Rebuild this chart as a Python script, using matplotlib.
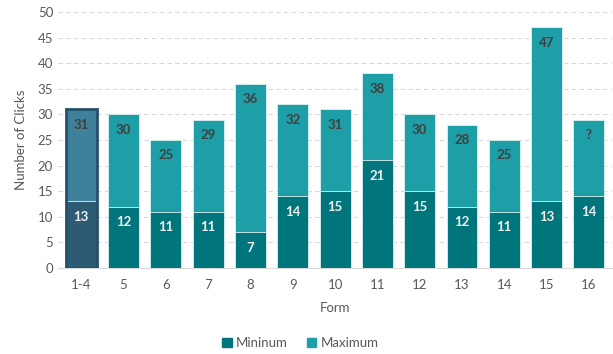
import matplotlib.pyplot as plt
from matplotlib.patches import Patch

plt.rcParams['font.family'] = ['Lato', 'DejaVu Sans']

# Dati
forms = ['1-4', '5', '6', '7', '8', '9', '10', '11', '12', '13', '14', '15', '16']
minimum = [13, 12, 11, 11, 7, 14, 15, 21, 15, 12, 11, 13, 14]
maximum = [31, 30, 25, 29, 36, 32, 31, 38, 30, 28, 25, 47, 29]
max_labels = ['31', '30', '25', '29', '36', '32', '31', '38', '30', '28', '25', '47', '?']

MIN_COL = '#00757c'
MAX_COL = '#1e9ea6'
HL_MIN = '#2c5b73'
HL_MAX = '#3f819a'
HL_EDGE = '#24506a'
TEXT_COL = '#595959'

fig = plt.figure(figsize=(6.13, 3.54), dpi=100)
ax = fig.add_axes([0.0946, 0.243, 0.904, 0.723])

x = list(range(len(forms)))
w = 0.73
max_colors = [HL_MAX] + [MAX_COL] * (len(forms) - 1)
min_colors = [HL_MIN] + [MIN_COL] * (len(forms) - 1)

ax.bar(x, maximum, width=w, color=max_colors, edgecolor='#dff2f3', linewidth=0.6, zorder=2)
ax.bar(x, minimum, width=w, color=min_colors, edgecolor='#dff2f3', linewidth=0.6, zorder=3)
# contorno evidenziato per la prima barra
ax.bar(x[0], maximum[0], width=w, fill=False, edgecolor=HL_EDGE, linewidth=2, zorder=4)

for i in x:
    ax.text(i, maximum[i] - 3, max_labels[i], ha='center', va='center',
            fontsize=9.5, fontweight='bold', color='#404040', zorder=5)
    ax.text(i, minimum[i] - 3, str(minimum[i]), ha='center', va='center',
            fontsize=9.5, fontweight='bold', color='#f2f2f2', zorder=5)

ax.set_xlim(-0.55, len(forms) - 0.45)
ax.set_ylim(0, 50)
ax.set_yticks(range(0, 51, 5))
ax.set_xticks(x)
ax.set_xticklabels(forms)
ax.yaxis.grid(True, linestyle=(0, (4, 3)), color='#d9d9d9', linewidth=0.8, zorder=0)
ax.set_axisbelow(True)

for s in ['top', 'right', 'left']:
    ax.spines[s].set_visible(False)
ax.spines['bottom'].set_color('#d9d9d9')
ax.tick_params(axis='both', length=0, labelsize=9.5, colors=TEXT_COL)
ax.tick_params(axis='x', pad=8)

ax.set_xlabel('Form', fontsize=9.5, color=TEXT_COL, labelpad=8)
ax.set_ylabel('Number of Clicks', fontsize=9.5, color=TEXT_COL, labelpad=8)

handles = [Patch(color=MIN_COL, label='Mininum'), Patch(color=MAX_COL, label='Maximum')]
fig.legend(handles=handles, loc='center', bbox_to_anchor=(0.49, 0.03), ncol=2,
           frameon=False, fontsize=9.5, handlelength=0.7, handleheight=0.7,
           handletextpad=0.3, columnspacing=1.5, labelcolor=TEXT_COL)

fig.savefig('out.png', dpi=100)
